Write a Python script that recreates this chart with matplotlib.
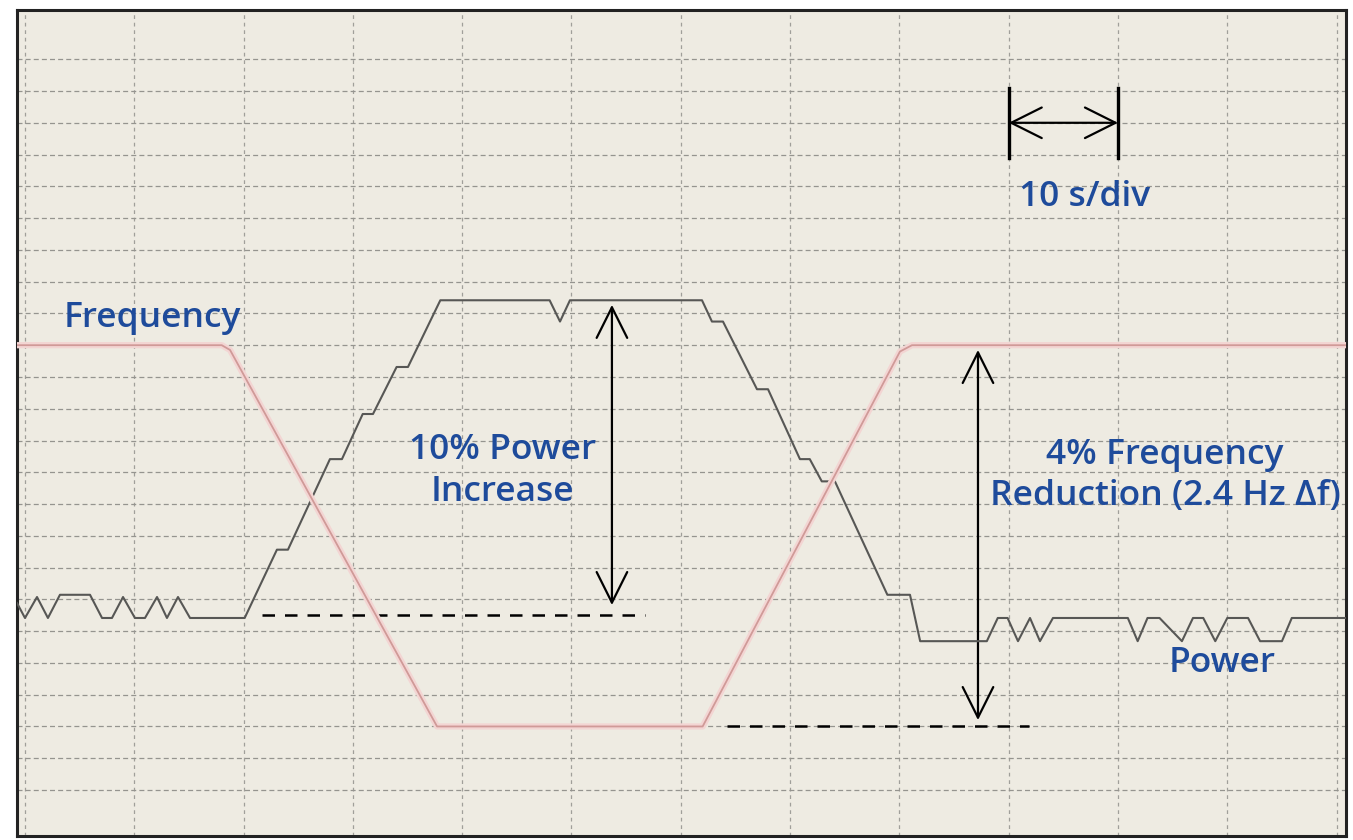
import matplotlib
matplotlib.use("Agg")
import matplotlib.pyplot as plt
import numpy as np

# time in seconds (10 s/div), power in % change, frequency in Hz
power_t = [-0.73, 0.0, 1.1, 2.1, 3.2, 5.95, 7.05, 7.96, 8.97, 10.06, 10.98, 12.08, 12.99,
           14.0, 15.1, 20.1, 23.05, 24.06, 27.9, 29.0, 30.9, 31.84, 34.0, 35.04, 38.0,
           48.0, 48.95, 49.86, 61.94, 62.85, 63.86, 66.97, 67.98, 70.9, 71.8, 72.9, 74.1,
           78.9, 80.97, 81.9, 88.0, 89.0, 89.9, 90.85, 91.95, 92.86, 94.05, 100.9, 101.8,
           102.7, 103.8, 105.85, 106.86, 107.8, 108.9, 110.0, 111.9, 113.0, 115.0, 115.9,
           120.86]
power_pct = [0.47, 0.0, 0.66, 0.0, 0.73, 0.73, 0.0, 0.0, 0.66, 0.0, 0.0, 0.66, 0.0,
             0.66, 0.0, 0.0, 2.15, 2.15, 5.0, 5.0, 6.42, 6.42, 7.9, 7.9, 10.0,
             10.0, 9.33, 10.0, 10.0, 9.33, 9.33, 7.2, 7.2, 5.0, 5.0, 4.3, 4.3,
             0.73, 0.73, -0.73, -0.73, 0.0, 0.0, -0.73, 0.0, -0.73, 0.0, 0.0, -0.73,
             0.0, 0.0, -0.73, 0.0, 0.0, -0.73, 0.0, 0.0, -0.73, -0.73, 0.0,
             0.0]

freq_t = [-0.73, 18.0, 18.76, 37.7, 62.0, 80.05, 81.15, 120.86]
freq_hz = [60.0, 60.0, 59.97, 57.6, 57.6, 59.96, 60.0, 60.0]

grid_t = list(range(0, 130, 10))
grid_div = list(range(0, 24))

BG = "#EEEBE2"
BLUE = "#1E4B9B"
FONT = ["Open Sans", "DejaVu Sans"]

fig = plt.figure(figsize=(13.53, 8.4), dpi=100)
ax = fig.add_axes([17 / 1353, 1 - 836 / 840, 1329 / 1353, 826 / 840])
ax.set_facecolor(BG)
ax.set_xlim(-0.73, 120.86)
ax.set_ylim(-1.448, 24.55)
ax.set_xticks([]); ax.set_yticks([])
for s in ax.spines.values():
    s.set_linewidth(2.2); s.set_color("#222222")

for t in grid_t:
    ax.axvline(t, color="#a09f9a", lw=0.9, ls=(0, (3, 3)), zorder=1)
for d in grid_div:
    ax.axhline(d, color="#95948f", lw=0.9, ls=(0, (4, 2.5)), zorder=1)

# power and frequency on their own scales (1 %/div and 0.2 Hz/div)
axp = ax.twinx()
axp.set_ylim(-1.448 - 5.414, 24.55 - 5.414)
axf = ax.twinx()
axf.set_ylim(57.2 + 0.2 * -1.448, 57.2 + 0.2 * 24.55)
for a in (axp, axf):
    a.set_yticks([])
    for s in a.spines.values():
        s.set_visible(False)

axf.plot(freq_t, freq_hz, color="#f3d5d3", lw=4.5, solid_capstyle="butt", zorder=2)
axf.plot(freq_t, freq_hz, color="#d09a98", lw=1.3, zorder=3)
axp.plot(power_t, power_pct, color="#575755", lw=1.5, zorder=4)

# dashed reference levels
ax.plot([21.7, 56.7], [5.51, 5.51], color="black", lw=1.8, ls=(0, (5, 4)))
axf.plot([64.2, 91.9], [57.6, 57.6], color="black", lw=1.8, ls=(0, (5, 4)))

arrow = dict(arrowstyle="<->,head_length=1.1,head_width=0.55", lw=1.6, color="black",
             shrinkA=0, shrinkB=0, mutation_scale=20)
ax.annotate("", xy=(53.7, 15.27), xytext=(53.7, 5.82), arrowprops=arrow)
ax.annotate("", xy=(87.19, 13.85), xytext=(87.19, 2.20), arrowprops=arrow)
ax.annotate("", xy=(100, 21.0), xytext=(90, 21.0), arrowprops=arrow)
ax.plot([90, 90], [19.9, 22.1], color="black", lw=2.4)
ax.plot([100, 100], [19.9, 22.1], color="black", lw=2.4)

txt = dict(color=BLUE, family=FONT, fontweight="semibold", fontsize=25.5,
           ha="center", va="center", linespacing=1.3)
ax.text(11.62, 14.85, "Frequency", **txt)
ax.text(43.7, 10.05, "10% Power\nIncrease", **txt)
ax.text(104.3, 9.9, "4% Frequency\nReduction (2.4 Hz \u0394f)", **txt)
ax.text(96.9, 18.66, "10 s/div", **txt)
ax.text(109.5, 4.0, "Power", **txt)

fig.savefig("out.png", dpi=100, facecolor="white")
